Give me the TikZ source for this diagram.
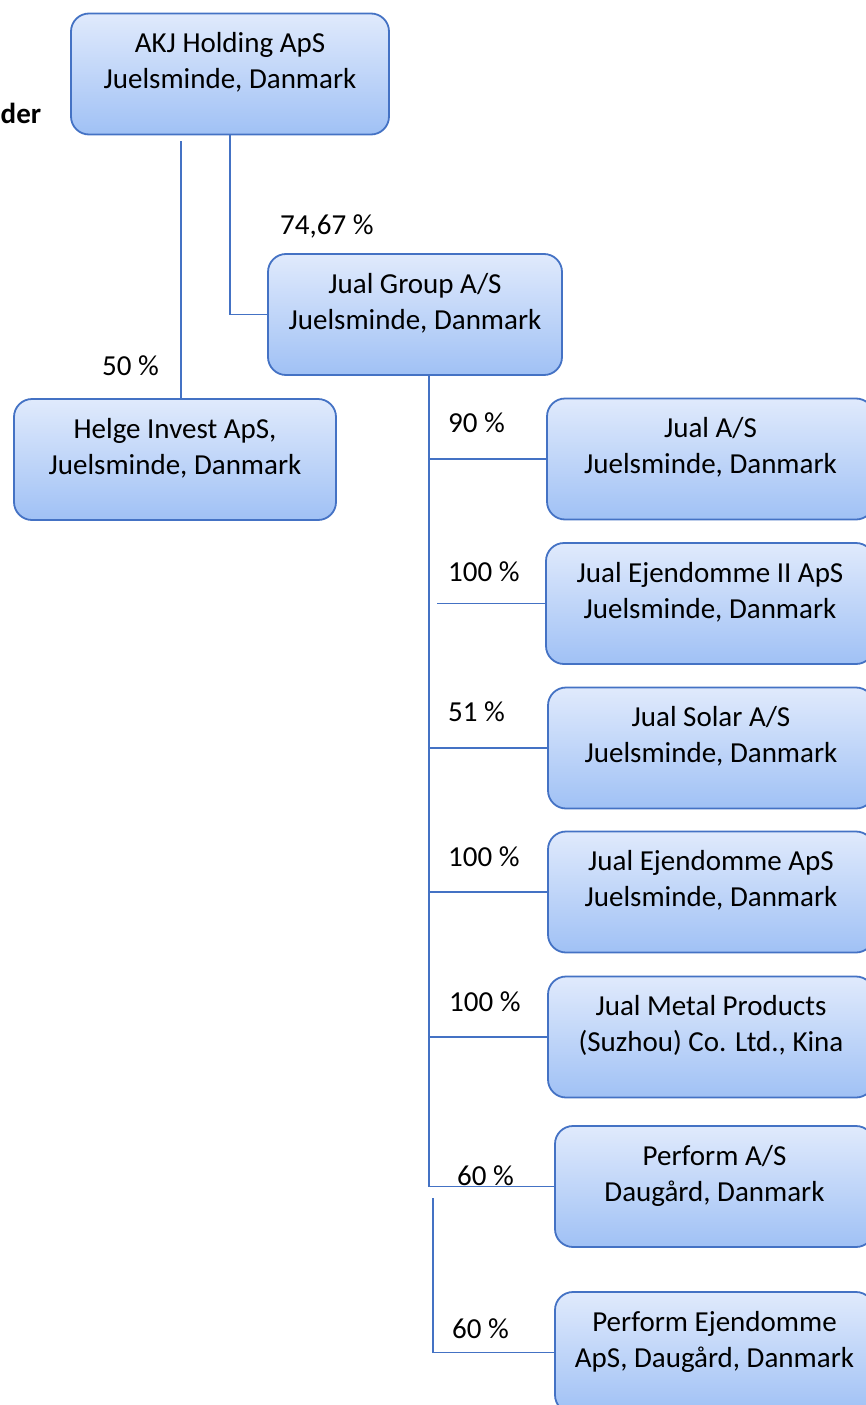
\documentclass[tikz,border=0pt]{standalone}
\usepackage{fontspec}
\setmainfont{Carlito}
\usetikzlibrary{calc}

\definecolor{boxtop}{RGB}{224,234,252}
\definecolor{boxbot}{RGB}{160,193,245}
\definecolor{boxline}{RGB}{68,114,196}

\tikzset{
	orgbox/.style={draw=boxline, line width=1.8pt, rounded corners=18pt, top color=boxtop, bottom color=boxbot, align=center, inner sep=0pt, text depth=27pt, minimum height=121pt},
	pct/.style={anchor=base west, inner sep=0pt},
	link/.style={draw=boxline, line width=1.3pt}
}

\begin{document}
\begin{tikzpicture}[x=1pt, y=-1pt]
			\fontsize{29}{36}\selectfont
			\useasboundingbox (0,0) rectangle (866,1405);
			\node [anchor=base west, inner sep=0pt, font=\bfseries] (cut) at (0.5,123) {der};
			\node [orgbox, minimum width=318pt] (akj) at (230,74) {AKJ Holding ApS\\Juelsminde, Danmark};
			\node [orgbox, minimum width=294pt] (group) at (415,314.5) {Jual Group A/S\\Juelsminde, Danmark};
			\node [orgbox, minimum width=322pt] (helge) at (175,459.5) {Helge Invest ApS,\\Juelsminde, Danmark};
			\node [orgbox, minimum width=327pt] (jas) at (710.5,459) {Jual A/S\\Juelsminde, Danmark};
			\node [orgbox, minimum width=328pt] (jej2) at (710,603.5) {Jual Ejendomme II ApS\\Juelsminde, Danmark};
			\node [orgbox, minimum width=326pt] (solar) at (711,748) {Jual Solar A/S\\Juelsminde, Danmark};
			\node [orgbox, minimum width=326pt] (jej) at (711,892) {Jual Ejendomme ApS\\Juelsminde, Danmark};
			\node [orgbox, minimum width=326pt] (metal) at (711,1037) {Jual Metal Products\\(Suzhou) Co. Ltd., Kina};
			\node [orgbox, minimum width=319pt] (perf) at (714.5,1186.5) {Perform A/S\\Daugård, Danmark};
			\node [orgbox, minimum width=319pt] (perfej) at (714.5,1352.5) {Perform Ejendomme\\ApS, Daugård, Danmark};
			\coordinate (hstart) at (181,141);
			\coordinate (tr) at (429,0);
			\coordinate (tr2) at (437,0);
			\coordinate (tr3) at (433,1198);
			\draw [link] (akj.south) |- (group.west);
			\draw [link] (hstart) -- (hstart |- helge.north);
			\draw [link] (group.south -| tr) -- (tr |- perf.west) -- (perf.west);
			\foreach \b in {jas,solar,jej,metal}
				\draw [link] (tr |- \b.west) -- (\b.west);
			\draw [link] (tr2 |- jej2.west) -- (jej2.west);
			\draw [link] (tr3) |- (perfej.west);
			\node [pct] (p1) at (280,234) {74,67 \%};
			\node [pct] (p2) at (102,375) {50 \%};
			\node [pct] (p3) at (448,432) {90 \%};
			\node [pct] (p4) at (448,581) {100 \%};
			\node [pct] (p5) at (448,721) {51 \%};
			\node [pct] (p6) at (448,866) {100 \%};
			\node [pct] (p7) at (449,1011) {100 \%};
			\node [pct] (p8) at (457,1185) {60 \%};
			\node [pct] (p9) at (452,1338) {60 \%};
		\end{tikzpicture}
\end{document}
